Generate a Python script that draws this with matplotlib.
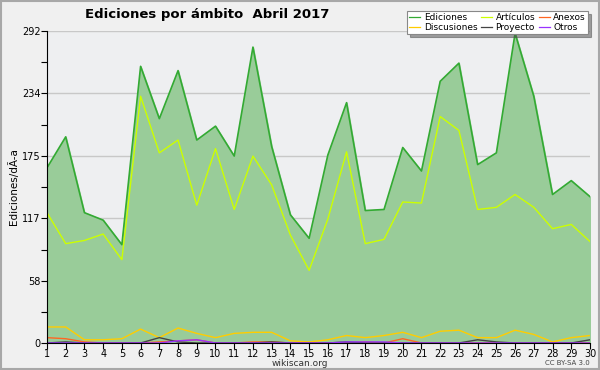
import numpy as np
import matplotlib.pyplot as plt
from matplotlib.patches import Rectangle

dias = list(range(1, 31))
ediciones = [164, 193, 122, 115, 92, 259, 210, 255, 190, 203,
             175, 277, 184, 120, 98, 176, 225, 124, 125, 183,
             161, 245, 262, 167, 178, 290, 231, 139, 152, 137]
articulos = [122, 93, 96, 102, 78, 231, 178, 190, 129, 182,
             125, 175, 148, 101, 68, 116, 179, 93, 97, 132,
             131, 212, 199, 125, 127, 139, 127, 107, 111, 95]
discusiones = [15, 15, 3, 3, 4, 13, 5, 14, 9, 5,
               9, 10, 10, 2, 1, 3, 7, 5, 7, 10,
               5, 11, 12, 5, 5, 12, 8, 1, 5, 7]
anexos = [5, 4, 1, 0, 0, 0, 1, 2, 3, 0,
          0, 1, 1, 0, 0, 0, 0, 1, 0, 4,
          0, 0, 0, 0, 0, 0, 0, 0, 0, 0]
proyecto = [0, 1, 0, 0, 0, 0, 5, 1, 0, 0,
            0, 0, 1, 0, 0, 0, 1, 0, 0, 0,
            0, 0, 0, 3, 1, 0, 0, 0, 0, 3]
otros = [0, 0, 0, 0, 0, 0, 0, 2, 3, 0,
         0, 0, 0, 0, 0, 0, 1, 1, 1, 0,
         0, 0, 0, 0, 0, 0, 0, 0, 0, 0]
yticks = [0, 58, 117, 175, 234, 292]

fig = plt.figure(figsize=(6, 3.7), dpi=100, facecolor='#f0f0f0')
fig.patches.append(Rectangle((0.002, 0.003), 0.996, 0.994, transform=fig.transFigure,
                             fill=False, edgecolor='#a8a8a8', linewidth=1.5))
ax = fig.add_axes([0.0783, 0.073, 0.905, 0.843])
ax.set_facecolor('#eeeff1')

ax.fill_between(dias, ediciones, 0, color='#99cc99', zorder=2)
ax.plot(dias, ediciones, color='#33aa33', lw=1.2, label='Ediciones', zorder=3)
ax.plot(dias, articulos, color='#ccff00', lw=1.0, label='Artículos', zorder=3)
ax.plot(dias, anexos, color='#ff6622', lw=1.0, label='Anexos', zorder=3)
ax.plot(dias, discusiones, color='#ffcc00', lw=1.0, label='Discusiones', zorder=3)
ax.plot(dias, proyecto, color='#444444', lw=1.0, label='Proyecto', zorder=3)
ax.plot(dias, otros, color='#9933ff', lw=1.0, label='Otros', zorder=3)

ax.set_xlim(1, 30)
ax.set_ylim(0, 292)
ax.set_xticks(dias)
ax.set_yticks(yticks)
ax.set_yticks([29, 87.5, 146, 204.5, 263], minor=True)
ax.tick_params(axis='both', labelsize=7, length=4, width=0.8, pad=0.5)
ax.tick_params(axis='y', which='minor', length=4, width=0.8)
ax.grid(axis='y', color='#c8c8c8', lw=1, zorder=1)
for s in ['top', 'right']:
    ax.spines[s].set_visible(False)
ax.spines['left'].set_zorder(4)
ax.spines['bottom'].set_zorder(4)
ax.set_ylabel('Ediciones/dÃ-a', fontsize=7.5, labelpad=2)

h, l = ax.get_legend_handles_labels()
order = [0, 3, 1, 4, 2, 5]
leg = ax.legend([h[i] for i in order], [l[i] for i in order], ncol=3,
                loc='upper right', bbox_to_anchor=(1.0, 1.07), fontsize=6.5,
                frameon=True, fancybox=False, shadow=True, borderpad=0.25,
                handlelength=1.2, handletextpad=0.4, columnspacing=0.4,
                labelspacing=0.05, borderaxespad=0.2)
leg.get_frame().set_edgecolor('#888888')
leg.get_frame().set_linewidth(0.8)
for line in leg.get_lines():
    line.set_linewidth(0.9)

fig.text(0.142, 0.96, 'Ediciones por ámbito  Abril 2017', fontsize=9.5,
         fontweight='bold', ha='left', va='center')
fig.text(0.5, 0.017, 'wikiscan.org', fontsize=6.5, ha='center', va='center', color='#333333')
fig.text(0.983, 0.018, 'CC BY-SA 3.0', fontsize=5, ha='right', va='center', color='#444444')

fig.savefig('out.png', dpi=100, facecolor=fig.get_facecolor())
